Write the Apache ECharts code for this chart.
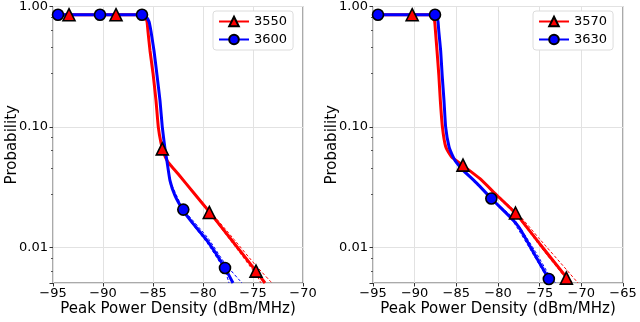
<!DOCTYPE html>
<html>
<head>
<meta charset="utf-8">
<script src="https://cdn.jsdelivr.net/npm/echarts@6/dist/echarts.min.js"></script>
<style>
    html, body { margin: 0; padding: 0; background: #fff; }
    #chart { width: 640px; height: 322px; }
</style>
</head>
<body>
<div id="chart"></div>
<script>
// ---- data: [dBm/MHz, probability] ----
var leftNames = ['3550', '3600'];
var rightNames = ['3570', '3630'];

var leftRed = [[-95, 0.855], [-86.0, 0.855], [-85.8, 0.83], [-85.6, 0.75], [-85.5, 0.62], [-85.3, 0.43],
    [-85.0, 0.28], [-84.7, 0.166], [-84.47, 0.1], [-84.2, 0.074], [-83.9, 0.06], [-83.6, 0.053],
    [-83.3, 0.049], [-82.5, 0.041], [-81, 0.029], [-79.4, 0.020], [-77, 0.0112], [-74.7, 0.0064], [-73.8, 0.0051]];
var leftBlue = [[-95, 0.855], [-86.1, 0.855], [-85.8, 0.84], [-85.4, 0.75], [-85.2, 0.62], [-84.9, 0.43],
    [-84.6, 0.27], [-84.3, 0.166], [-84.07, 0.1], [-83.8, 0.066], [-83.6, 0.052], [-83.3, 0.036],
    [-82.8, 0.027], [-82.0, 0.0205], [-81.2, 0.0166], [-79.5, 0.0112], [-77.8, 0.0068], [-77.0, 0.0051]];
var rightRed = [[-95, 0.855], [-88.0, 0.855], [-87.8, 0.82], [-87.6, 0.75], [-87.5, 0.62], [-87.32, 0.43],
    [-87.1, 0.27], [-86.92, 0.166], [-86.67, 0.1], [-86.28, 0.069], [-85.6, 0.057], [-85.2, 0.054],
    [-84.2, 0.048], [-82.2, 0.0375], [-80.2, 0.0275], [-77.9, 0.0194], [-77.4, 0.0176], [-75.0, 0.0108],
    [-71.8, 0.0057], [-71.2, 0.0051]];
var rightBlue = [[-95, 0.855], [-87.4, 0.855], [-87.2, 0.75], [-87.1, 0.62], [-86.88, 0.43], [-86.7, 0.27],
    [-86.48, 0.166], [-86.28, 0.1], [-85.88, 0.069], [-85.4, 0.057], [-85.0, 0.051], [-84.2, 0.044],
    [-82.5, 0.034], [-80.8, 0.0256], [-78.2, 0.017], [-77.4, 0.0145], [-75.6, 0.0088], [-73.9, 0.0055], [-73.6, 0.0051]];

// markers (matplotlib markevery)
var leftRedMarks = [[-93.4, 0.855], [-88.7, 0.855], [-84.07, 0.066], [-79.37, 0.0196], [-74.7, 0.0064]];
var leftBlueMarks = [[-94.5, 0.855], [-90.3, 0.855], [-86.1, 0.855], [-81.97, 0.0207], [-77.8, 0.0068]];
var rightRedMarks = [[-90.3, 0.855], [-84.2, 0.0484], [-77.9, 0.0194], [-71.8, 0.0056]];
var rightBlueMarks = [[-94.4, 0.855], [-87.56, 0.855], [-80.8, 0.0256], [-73.9, 0.0055]];

// thin dashed bounds around the tails
var leftRedLo = [[-82.5, 0.041], [-79.4, 0.0196], [-77, 0.0108], [-74.7, 0.0060], [-74.2, 0.0051]];
var leftRedHi = [[-82.5, 0.041], [-79.4, 0.0206], [-77, 0.0120], [-74.7, 0.0071], [-73.1, 0.0051]];
var leftBlueLo = [[-83.3, 0.034], [-82, 0.0200], [-79.5, 0.0107], [-77.8, 0.0064], [-77.4, 0.0051]];
var leftBlueHi = [[-83.3, 0.036], [-82, 0.0212], [-79.5, 0.0120], [-77.8, 0.0074], [-76.1, 0.0051]];
var rightRedLo = [[-80.2, 0.027], [-77.4, 0.0172], [-75, 0.0104], [-71.8, 0.0055], [-71.4, 0.0051]];
var rightRedHi = [[-80.2, 0.028], [-77.4, 0.0184], [-75, 0.0118], [-71.8, 0.0066], [-70.4, 0.0051]];
var rightBlueLo = [[-81, 0.026], [-78.2, 0.0165], [-75.6, 0.0084], [-73.9, 0.0053], [-73.8, 0.0051]];
var rightBlueHi = [[-81, 0.026], [-78.2, 0.0177], [-75.6, 0.0095], [-73.9, 0.0060], [-73.1, 0.0051]];

var RED = '#ff0000', BLUE = '#0000ff';
var FONT = 'DejaVu Sans';

var myChart = echarts.init(document.getElementById('chart'));

function xAxis(idx, max) {
    return {
        type: 'value', gridIndex: idx, min: -95, max: max, interval: 5,
        name: 'Peak Power Density (dBm/MHz)', nameLocation: 'middle', nameGap: 19,
        nameMoveOverlap: false,
        nameTextStyle: { fontSize: 15, color: '#000', fontFamily: FONT },
        axisLine: { show: false },
        axisTick: { show: true, length: 3.5, lineStyle: { color: '#333' } },
        axisLabel: {
            fontSize: 13, color: '#000', margin: 4, fontFamily: FONT,
            formatter: function (v) { return String(v).replace('-', '\u2212'); }
        },
        splitLine: { show: true, lineStyle: { color: '#e2e2e2', width: 1 } }
    };
}

function yAxis(idx) {
    return {
        type: 'log', logBase: 10, gridIndex: idx, min: 0.0051, max: 1,
        name: 'Probability', nameLocation: 'middle', nameGap: 33,
        nameMoveOverlap: false,
        nameTextStyle: { fontSize: 15, color: '#000', fontFamily: FONT },
        axisLine: { show: false },
        axisTick: { show: true, length: 3.5, lineStyle: { color: '#333' } },
        minorTick: { show: true, splitNumber: 5, length: 2, lineStyle: { color: '#555' } },
        axisLabel: {
            fontSize: 13, color: '#000', margin: 5, fontFamily: FONT, showMinLabel: false,
            formatter: function (v) { return (Math.round(v * 100) / 100).toFixed(2); }
        },
        splitLine: { show: true, lineStyle: { color: '#e2e2e2', width: 1 } }
    };
}

function curve(name, data, color, symbol, idx) {
    return {
        name: name, type: 'line', xAxisIndex: idx, yAxisIndex: idx, data: data,
        showSymbol: false, symbol: symbol, symbolSize: 9,
        smooth: 0.15,
        lineStyle: { color: color, width: 3 },
        itemStyle: { color: color, borderColor: '#000', borderWidth: 1.5, opacity: 1 },
        z: 3
    };
}

function marks(name, data, color, symbol, idx) {
    return {
        name: name + ' marks', type: 'scatter', xAxisIndex: idx, yAxisIndex: idx, data: data,
        symbol: symbol, symbolSize: symbol === 'circle' ? 11 : 12,
        itemStyle: { color: color, borderColor: '#000', borderWidth: 1.6, opacity: 1 },
        z: 5
    };
}

function bound(data, color, idx) {
    return {
        type: 'line', xAxisIndex: idx, yAxisIndex: idx, data: data, silent: true,
        showSymbol: false, symbol: 'none', smooth: 0.2,
        lineStyle: { color: color, width: 1, type: [3, 2] }, z: 2
    };
}

function legend(names, left) {
    return {
        data: names, orient: 'vertical', left: left, top: 11,
        padding: [4, 6, 4, 5], itemGap: 5, itemWidth: 30, itemHeight: 12,
        borderColor: '#dcdcdc', borderWidth: 1, borderRadius: 3, backgroundColor: '#fff',
        textStyle: { fontSize: 13, color: '#000', fontFamily: FONT }
    };
}

var option = {
    animation: false,
    textStyle: { fontFamily: FONT },
    grid: [
        { left: 53, top: 5, width: 250, height: 279, show: true, borderColor: '#555', borderWidth: 1, backgroundColor: 'transparent' },
        { left: 373, top: 5, width: 250, height: 279, show: true, borderColor: '#555', borderWidth: 1, backgroundColor: 'transparent' }
    ],
    xAxis: [xAxis(0, -70), xAxis(1, -65)],
    yAxis: [yAxis(0), yAxis(1)],
    legend: [legend(leftNames, 213), legend(rightNames, 533)],
    series: [
        bound(leftRedLo, RED, 0), bound(leftRedHi, RED, 0),
        bound(leftBlueLo, BLUE, 0), bound(leftBlueHi, BLUE, 0),
        bound(rightRedLo, RED, 1), bound(rightRedHi, RED, 1),
        bound(rightBlueLo, BLUE, 1), bound(rightBlueHi, BLUE, 1),
        curve(leftNames[0], leftRed, RED, 'triangle', 0),
        curve(leftNames[1], leftBlue, BLUE, 'circle', 0),
        curve(rightNames[0], rightRed, RED, 'triangle', 1),
        curve(rightNames[1], rightBlue, BLUE, 'circle', 1),
        marks(leftNames[0], leftRedMarks, RED, 'triangle', 0),
        marks(leftNames[1], leftBlueMarks, BLUE, 'circle', 0),
        marks(rightNames[0], rightRedMarks, RED, 'triangle', 1),
        marks(rightNames[1], rightBlueMarks, BLUE, 'circle', 1)
    ]
};

myChart.setOption(option);
window.addEventListener('resize', function () {
    myChart.resize();
});
</script>
</body>
</html>
